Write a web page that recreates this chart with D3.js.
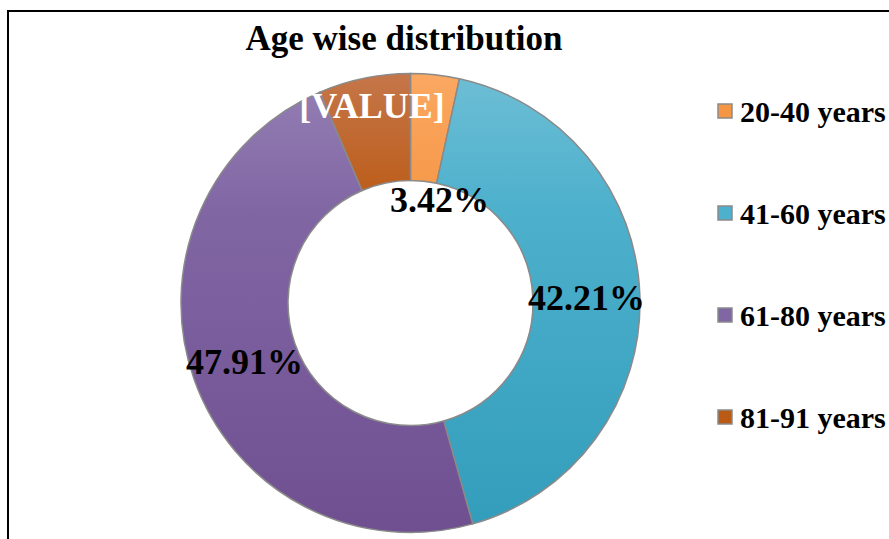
<!DOCTYPE html>
<html>
<head>
<meta charset="utf-8">
<script src="https://cdn.jsdelivr.net/npm/d3@7"></script>
<style>
  body { margin: 0; background: #fff; }
  text { font-family: 'Liberation Serif', 'Times New Roman', serif; font-weight: bold; }
</style>
</head>
<body>
<div id="chart"></div>
<script>
let categories = ['20-40 years', '41-60 years', '61-80 years', '81-91 years']
let values = [3.42, 42.21, 47.91, 6.46]
let labels = ['3.42%', '42.21%', '47.91%', '[VALUE]']

let width = 889
let height = 539
let cx = 410.5
let cy = 303
let outerR = 229.5
let innerR = 122.5

let svg = d3
  .select('#chart')
  .append('svg')
  .attr('width', width)
  .attr('height', height)

// gradients: light at the top, quickly settling to the base colour
let stops = [
  ['#fba862', '#f59645', '#ea8630'],
  ['#6dbed5', '#4db0cc', '#329dbb'],
  ['#9580b4', '#8166a4', '#6f4f90'],
  ['#c5764a', '#bb5a14', '#b44f00']
]

let defs = svg.append('defs')
categories.forEach((c, i) => {
  // coordinates are in the donut group's space (centred on 0,0)
  let g = defs
    .append('linearGradient')
    .attr('id', 'grad' + i)
    .attr('gradientUnits', 'userSpaceOnUse')
    .attr('x1', 0)
    .attr('y1', -outerR)
    .attr('x2', 0)
    .attr('y2', outerR)
  g.append('stop').attr('offset', '0%').attr('stop-color', stops[i][0])
  g.append('stop').attr('offset', '30%').attr('stop-color', stops[i][1])
  g.append('stop').attr('offset', '100%').attr('stop-color', stops[i][2])
})

// frame
svg
  .append('path')
  .attr('d', `M8,${height} L8,11 L${width},11`)
  .attr('fill', 'none')
  .attr('stroke', '#000')
  .attr('stroke-width', 2)

svg
  .append('text')
  .attr('x', 404)
  .attr('y', 50)
  .attr('text-anchor', 'middle')
  .attr('font-size', 35)
  .text('Age wise distribution')

let pie = d3.pie().sort(null).value(d => d)
let arc = d3.arc().innerRadius(innerR).outerRadius(outerR)
let arcs = pie(values)

let donut = svg.append('g').attr('transform', `translate(${cx},${cy})`)

donut
  .selectAll('.slice')
  .data(arcs)
  .enter()
  .append('path')
  .attr('class', 'slice')
  .attr('d', arc)
  .attr('fill', (d, i) => `url(#grad${i})`)
  .attr('stroke', '#8a8a8a')
  .attr('stroke-width', 1.5)

// labels sit on the centroid; the two small slices get nudged like Excel does
let nudge = [[10, 72], [0, 0], [0, 0], [-3, -25]]

donut
  .selectAll('.label')
  .data(arcs)
  .enter()
  .append('text')
  .attr('class', 'label')
  .attr('x', (d, i) => arc.centroid(d)[0] + nudge[i][0])
  .attr('y', (d, i) => arc.centroid(d)[1] + nudge[i][1])
  .attr('text-anchor', 'middle')
  .attr('dominant-baseline', 'central')
  .attr('font-size', 36)
  .attr('fill', (d, i) => (i === 3 ? '#fff' : '#000'))
  .text((d, i) => labels[i])

let legend = svg.append('g').attr('transform', 'translate(718,111)')

legend
  .selectAll('.legend-entry')
  .data(categories)
  .enter()
  .append('g')
  .attr('class', 'legend-entry')
  .attr('transform', (d, i) => `translate(0,${i * 102})`)
  .each(function(d, i) {
    let g = d3.select(this)

    g.append('rect')
      .attr('x', 0)
      .attr('y', -7)
      .attr('width', 14)
      .attr('height', 14)
      .attr('fill', stops[i][1])
      .attr('stroke', '#8a8a8a')
      .attr('stroke-width', 1.5)

    g.append('text')
      .text(d)
      .attr('x', 22)
      .attr('y', 0)
      .attr('dominant-baseline', 'central')
      .attr('font-size', 30)
  })
</script>
</body>
</html>
